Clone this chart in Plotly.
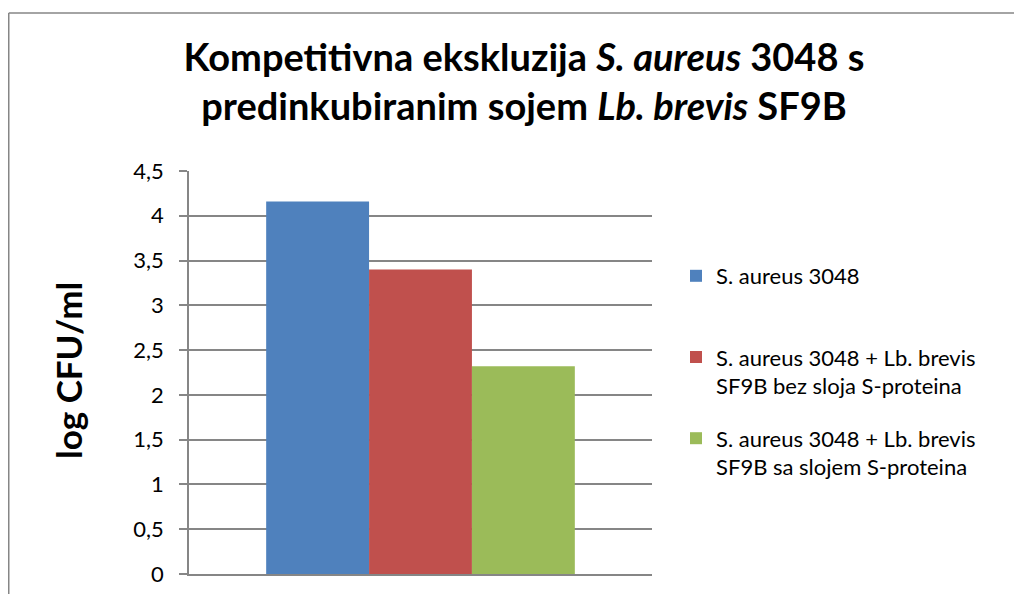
import plotly.graph_objects as go

categories = [""]
series_names = [
    "S. aureus 3048",
    "S. aureus 3048 + Lb. brevis<br>SF9B bez sloja S-proteina",
    "S. aureus 3048 + Lb. brevis<br>SF9B sa slojem S-proteina",
]
series_values = [[4.16], [3.40], [2.32]]
series_colors = ["#4F81BD", "#C0504D", "#9BBB59"]
y_ticks = [0, 0.5, 1, 1.5, 2, 2.5, 3, 3.5, 4, 4.5]
title_text = ("<b>Kompetitivna ekskluzija <i>S. aureus</i> 3048 s<br>"
              "predinkubiranim sojem <i>Lb. brevis</i> SF9B</b>")
y_title = "<b>log CFU/ml</b>"

W, H = 1014, 594
L, R, T, B = 189, 652, 171, 574

fig = go.Figure()
for name, vals, col in zip(series_names, series_values, series_colors):
    label = name if "<br>" in name else name + "<br>&nbsp;"
    fig.add_trace(go.Bar(x=categories, y=vals, name=label,
                         marker=dict(color=col, line=dict(width=0)),
                         legendgroup=name))

def px_x(page_x):
    return (page_x - L) / (R - L)

def px_y(page_y):
    return (B - page_y) / (B - T)

annotations = [dict(text=y_title, xref="paper", yref="paper", x=px_x(68), y=px_y(371),
                    xanchor="center", yanchor="middle", showarrow=False, textangle=-90,
                    font=dict(family="Lato", size=35, color="#000000"))]

border = dict(color="#868686", width=1.5)
fig.update_layout(
    width=W, height=H,
    margin=dict(l=L, r=W - R, t=T, b=H - B, autoexpand=False),
    paper_bgcolor="white", plot_bgcolor="white",
    separators=", ",
    hovermode=False,
    font=dict(family="Lato", color="#000000"),
    barmode="group", bargap=1/3, bargroupgap=0,
    title=dict(text=title_text, x=524 / W, xanchor="center", xref="container",
               y=1 - 71 / H, yanchor="middle", yref="container",
               font=dict(family="Lato", size=38, color="#000000")),
    legend=dict(
        x=px_x(676), y=px_y(255), xanchor="left", yanchor="top",
        font=dict(family="Lato", size=22, color="#000000"),
        valign="top", tracegroupgap=21, itemwidth=30,
        bgcolor="rgba(0,0,0,0)",
    ),
    showlegend=True,
    annotations=annotations,
    shapes=[
        dict(type="line", xref="paper", yref="paper", x0=px_x(8.75), x1=px_x(1014),
             y0=px_y(13), y1=px_y(13), line=border, layer="below"),
        dict(type="line", xref="paper", yref="paper", x0=px_x(8.75), x1=px_x(8.75),
             y0=px_y(13), y1=px_y(594), line=border, layer="below"),
    ],
)
fig.update_xaxes(showticklabels=False, showgrid=False, showline=True, linecolor="#868686", linewidth=1.5,
                 ticks="", zeroline=False, automargin=False)
fig.update_yaxes(range=[0, 4.5], tickvals=y_ticks, showgrid=True, gridcolor="#868686", gridwidth=1.5,
                 showline=True, linecolor="#868686", linewidth=1.5, ticks="outside", ticklen=8,
                 tickcolor="#868686", tickwidth=1.5, zeroline=False, ticklabelstandoff=11,
                 ticklabeloverflow="allow",
                 tickfont=dict(family="Lato", size=22, color="#000000"), automargin=False)
fig.write_html("out.html", config={"displayModeBar": False},
               post_script="document.body.style.margin='0';document.body.style.overflow='hidden';")
